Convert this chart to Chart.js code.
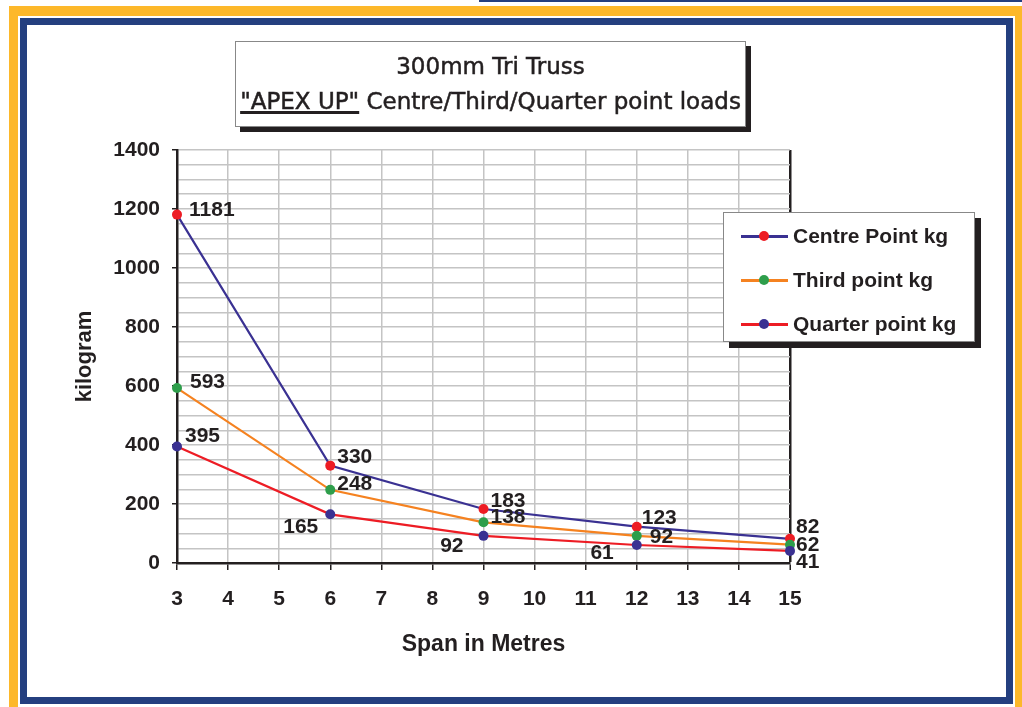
<!DOCTYPE html>
<html>
<head>
<meta charset="utf-8">
<script src="https://cdn.jsdelivr.net/npm/chart.js@4.4.1/dist/chart.umd.min.js"></script>
<style>
  body { margin: 0; width: 1022px; height: 707px; overflow: hidden; background: #fff; position: relative;
         font-family: "Liberation Sans", Arial, sans-serif; color: #231f20; }
  .topline { position: absolute; left: 479px; top: 0; width: 543px; height: 2px; background: #243f7f; }
  .gold { position: absolute; left: 9px; top: 6px; width: 1013px; height: 720px; background: #fdb82a; }
  .gap { position: absolute; left: 18px; top: 16px; width: 997px; height: 720px; background: #fff; }
  .frame { position: absolute; left: 20px; top: 18px; width: 993px; height: 686px; box-sizing: border-box;
           border: 7px solid #243f7f; background: #fff; }
  #chart { position: absolute; left: 0; top: 0; }
  .title { position: absolute; left: 235px; top: 41px; width: 511px; height: 86px; box-sizing: border-box;
           border: 1px solid #888; background: #fff; box-shadow: 5px 5px 0 #231f20; text-align: center;
           font-family: "DejaVu Sans", sans-serif; font-size: 23px; line-height: 35px; padding-top: 7px;
           white-space: nowrap; -webkit-text-stroke: 0.5px #231f20; }
  .title u { text-decoration-thickness: 3px; text-underline-offset: 2px; }
  .legend { position: absolute; left: 723px; top: 212px; width: 252px; height: 130px; box-sizing: border-box;
            border: 1px solid #888; background: #fff; box-shadow: 6px 6px 0 #231f20; padding-top: 1px; z-index: 2; }
  .item { position: relative; height: 44px; font-weight: bold; font-size: 21px; line-height: 44px; white-space: nowrap; }
  .item .txt { position: absolute; left: 69px; top: 0; }
  .sw { position: absolute; left: 17px; top: 21px; width: 47px; height: 2.5px; }
  .dot { position: absolute; left: 18px; top: -4px; width: 10px; height: 10px; border-radius: 50%; }
</style>
</head>
<body>
<div class="topline"></div>
<div class="gold"></div>
<div class="gap"></div>
<div class="frame"></div>
<canvas id="chart" width="1022" height="707"></canvas>
<div class="title">300mm Tri Truss<br><u>"APEX UP"</u> Centre/Third/Quarter point loads</div>
<div class="legend" id="legend"></div>
<script>
// spans (m) and loads (kg)
const spans = [3, 6, 9, 12, 15];
const centreLoads = [1181, 330, 183, 123, 82];
const thirdLoads = [593, 248, 138, 92, 62];
const quarterLoads = [395, 165, 92, 61, 41];
const seriesNames = ['Centre Point kg', 'Third point kg', 'Quarter point kg'];

// where each value label sits relative to its point (dx, dy)
const labelOffsets = [
  [[12, -4], [7, -8], [7, -8], [5, -9], [6, -12]],
  [[13, -6], [7, -6], [7, -5], [13, 1], [6, 0]],
  [[8, -10], [-12, 13], [-20, 10], [-23, 8], [6, 11]]
];

const ink = '#231f20';
const lineColors = ['#3a3192', '#f58220', '#ed1c24'];
const markerColors = ['#ed1c24', '#2e9e4b', '#3a3192'];
const numFont = { family: '"Liberation Sans", Arial, sans-serif', size: 21, weight: 'bold' };
const titleFont = { family: '"Liberation Sans", Arial, sans-serif', size: 22, weight: 'bold' };

const toPoints = vals => spans.map((x, i) => ({ x: x, y: vals[i] }));

// legend built from the same series
const legend = document.getElementById('legend');
seriesNames.forEach((name, i) => {
  legend.innerHTML += '<div class="item"><span class="sw" style="background:' + lineColors[i] + '">' +
    '<i class="dot" style="background:' + markerColors[i] + '"></i></span><span class="txt">' + name + '</span></div>';
});

const pointLabels = {
  id: 'pointLabels',
  afterDatasetsDraw(chart) {
    const ctx = chart.ctx;
    ctx.save();
    ctx.font = 'bold 21px "Liberation Sans", Arial, sans-serif';
    ctx.fillStyle = ink;
    ctx.textBaseline = 'middle';
    chart.data.datasets.forEach((ds, i) => {
      chart.getDatasetMeta(i).data.forEach((pt, j) => {
        const [dx, dy] = labelOffsets[i][j];
        ctx.textAlign = dx < 0 ? 'right' : 'left';
        ctx.fillText(ds.data[j].y, pt.x + dx, pt.y + dy);
      });
    });
    ctx.restore();
  }
};

function makeDataset(i, vals, order) {
  return {
    label: seriesNames[i],
    data: toPoints(vals),
    borderColor: lineColors[i],
    borderWidth: 2.2,
    pointBackgroundColor: markerColors[i],
    pointBorderColor: markerColors[i],
    pointBorderWidth: 0,
    pointRadius: 5,
    tension: 0,
    clip: false,
    order: order
  };
}

new Chart(document.getElementById('chart'), {
  type: 'line',
  data: {
    datasets: [
      makeDataset(0, centreLoads, 2),
      makeDataset(1, thirdLoads, 1),
      makeDataset(2, quarterLoads, 0)
    ]
  },
  options: {
    responsive: false,
    animation: false,
    devicePixelRatio: 1,
    layout: { padding: { left: 68, top: 150, right: 232, bottom: 45 } },
    plugins: { legend: { display: false }, tooltip: { enabled: false } },
    scales: {
      x: {
        type: 'linear', min: 3, max: 15,
        ticks: { stepSize: 1, color: ink, font: numFont, padding: 17, autoSkip: false },
        grid: {
          color: c => c.tick.value === 15 ? ink : '#c4c4c4',
          lineWidth: c => c.tick.value === 15 ? 2.5 : 1.5,
          tickColor: ink, tickLength: 7, tickWidth: 1.5
        },
        border: { color: ink, width: 2.5 },
        title: { display: true, text: 'Span in Metres', color: ink, font: { ...titleFont, size: 23 } },
        afterFit: axis => { axis.height = 99; }
      },
      y: {
        min: 0, max: 1400,
        ticks: {
          stepSize: 50, maxTicksLimit: 100, autoSkip: false, color: ink, font: numFont, padding: 12,
          callback: v => v % 200 === 0 ? v : ''
        },
        grid: {
          color: '#c4c4c4', lineWidth: 1.5,
          tickColor: c => c.tick.value % 200 === 0 ? ink : 'rgba(0,0,0,0)', tickLength: 5, tickWidth: 1.5
        },
        border: { color: ink, width: 2.5 },
        title: { display: true, text: 'kilogram', color: ink, font: titleFont },
        afterFit: axis => { axis.width = 109; }
      }
    }
  },
  plugins: [pointLabels]
});
</script>
</body>
</html>
